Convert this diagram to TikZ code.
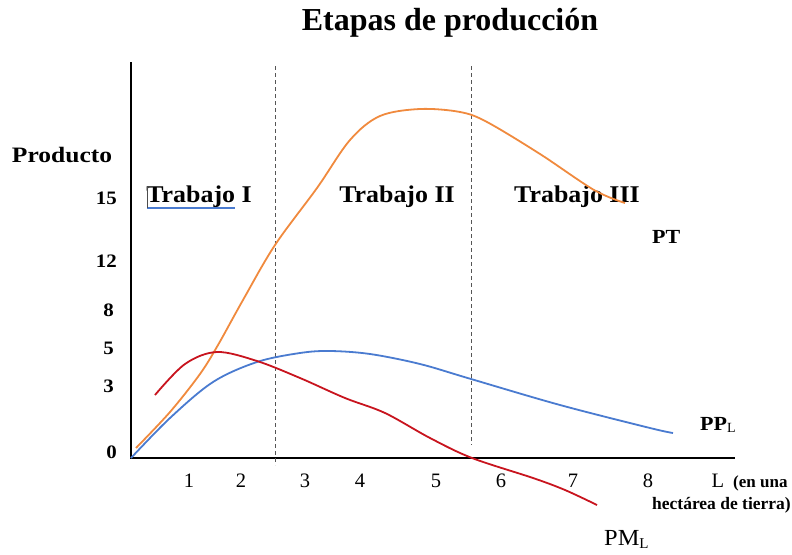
\documentclass[tikz,border=0pt]{standalone}
\usepackage{graphicx}
\usepackage{fontspec}
\setmainfont{Liberation Serif}
\newcommand{\hstretch}[2]{\scalebox{#1}[1]{#2}}
\definecolor{ptorange}{HTML}{F08A3E}
\definecolor{ppblue}{HTML}{4A7BD0}
\definecolor{pmred}{HTML}{C8141E}
\definecolor{dashgray}{HTML}{555555}
\begin{document}
\begin{tikzpicture}[x=1pt,y=-1pt,
  axis/.style={line width=2pt,black},
  divider/.style={dashgray,dashed,line width=0.9pt,dash pattern=on 4pt off 3pt},
  curve/.style={line width=1.8pt,smooth,tension=0.55},
  ylab/.style={anchor=east,font=\fontsize{19}{21}\selectfont\bfseries,inner sep=0pt},
  xlab/.style={anchor=center,font=\fontsize{20.5}{22}\selectfont,inner sep=0pt},
  stage/.style={anchor=center,font=\fontsize{24}{26}\selectfont\bfseries,inner sep=0pt},
  clab/.style={anchor=west,inner sep=0pt}]
\useasboundingbox (0,0) rectangle (792,554);
% title
\node[font=\fontsize{32}{34}\selectfont\bfseries] (title) at (450,23) {Etapas de producción};
% axes
\coordinate (ytop) at (131,62);
\coordinate (orig) at (131,458);
\coordinate (xend) at (735,458);
\draw[axis] (ytop) -- (orig) -- (xend);
% dividers
\coordinate (d1t) at (275,66); \coordinate (d1b) at (275,465);
\coordinate (d2t) at (471,66); \coordinate (d2b) at (471,445);
\draw[divider] (d1t) -- (d1b);
\draw[divider] (d2t) -- (d2b);
% y labels
\node[anchor=center,inner sep=0pt,font=\fontsize{22}{24}\selectfont\bfseries] (prod) at (62,155) {\hstretch{1.16}{Producto}};
\node[ylab] (y15) at (117,198) {\hstretch{1.1}{15}};
\node[ylab] (y12) at (117,261) {\hstretch{1.1}{12}};
\node[ylab] (y8) at (114,310) {\hstretch{1.1}{8}};
\node[ylab] (y5) at (114,348) {\hstretch{1.1}{5}};
\node[ylab] (y3) at (114,386) {\hstretch{1.1}{3}};
\node[ylab] (y0) at (117,452) {\hstretch{1.1}{0}};
% x labels
\node[xlab] (x1) at (189,481) {1};
\node[xlab] (x2) at (241,481) {2};
\node[xlab] (x3) at (305,481) {3};
\node[xlab] (x4) at (360,481) {4};
\node[xlab] (x5) at (436,481) {5};
\node[xlab] (x6) at (501,481) {6};
\node[xlab] (x7) at (573,481) {7};
\node[xlab] (x8) at (648,481) {8};
\node[xlab] (xL) at (718,481) {L};
\node[anchor=west,inner sep=0pt,font=\fontsize{17}{19}\selectfont\bfseries] (enuna) at (733,483) {(en una};
\node[anchor=east,inner sep=0pt,font=\fontsize{17.5}{19}\selectfont\bfseries] (hect) at (791,505) {hectárea de tierra)};
% stage labels
\node[stage] (t1) at (199,197) {\hstretch{1.08}{Trabajo I}};
\draw[ppblue,line width=1.2pt] (147,208) -- (235,208);
\draw[black!70,line width=0.6pt] (147.5,187) -- (147.5,208);
\node[stage] (t2) at (397,197) {\hstretch{1.08}{Trabajo II}};
\node[stage] (t3) at (577,197) {\hstretch{1.08}{Trabajo III}};
% curves
\draw[curve,ptorange] plot coordinates {(136,448) (170,412) (200,374) (218,345) (243,300) (275,245) (317,188) (350,140) (380,116) (420,109) (460,112) (487,122) (540,154) (594,190) (625,203)};
\draw[curve,ppblue] plot coordinates {(131,458) (170,418) (213,382) (257,362) (300,353) (330,351) (370,354) (420,364) (471,379) (560,405) (650,428) (673,433)};
\draw[curve,pmred] plot coordinates {(155,395) (185,364) (217,352) (257,361) (300,378) (345,398) (385,413) (430,438) (472,458) (533,478) (565,490) (597,505)};
% curve labels
\node[clab,font=\fontsize{20}{22}\selectfont\bfseries] (pt) at (652,237) {\hstretch{1.1}{PT}};
\node[clab,font=\fontsize{20}{22}\selectfont\bfseries] (ppl) at (700,425) {\hstretch{1.1}{PP}\raisebox{-0.3ex}{\fontsize{14}{15}\selectfont\mdseries L}};
\node[clab,anchor=base west,font=\fontsize{23}{25}\selectfont] (pml) at (604,545) {\hstretch{1.06}{PM}\raisebox{-0.3ex}{\fontsize{15}{16}\selectfont L}};
\end{tikzpicture}
\end{document}
